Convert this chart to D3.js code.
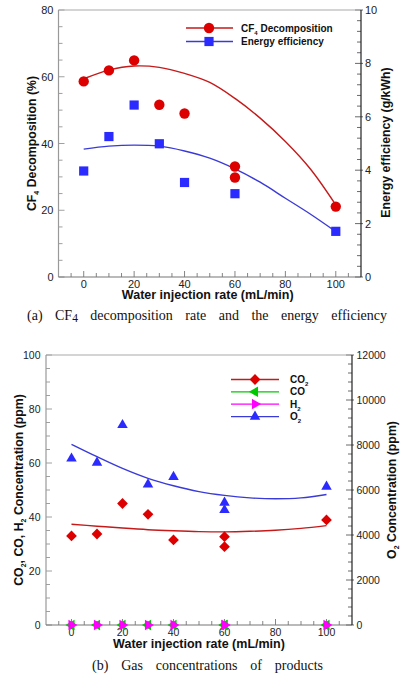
<!DOCTYPE html>
<html><head><meta charset="utf-8">
<script src="https://cdn.jsdelivr.net/npm/d3@7"></script>
<style>body{margin:0;background:#fff}svg{display:block}</style>
</head><body>
<script>
// ---------- Data (a) ----------
const xDecomp = [0, 10, 20, 30, 40, 60, 60, 100];
const cf4Decomp = [58.6, 61.9, 64.9, 51.6, 49.0, 33.1, 29.8, 21.1];
const xEff = [0, 10, 20, 30, 40, 60, 100];
const energyEff = [3.97, 5.26, 6.44, 4.99, 3.54, 3.12, 1.71];
const fitX = [0, 10, 20, 30, 40, 50, 60, 70, 80, 90, 100];
const cf4Fit = [59.4, 62.0, 63.2, 62.8, 61.0, 58.3, 53.5, 47.6, 40.6, 32.3, 21.6];
const effFit = [4.79, 4.90, 4.94, 4.90, 4.72, 4.45, 4.05, 3.55, 2.95, 2.35, 1.70];
// ---------- Data (b) ----------
const xGas = [0, 10, 20, 30, 40, 60, 60, 100];
const co2 = [33.0, 33.7, 45.0, 41.0, 31.5, 32.7, 29.0, 38.9];
const co = [0, 0, 0, 0, 0, 0, 0, 0];
const h2 = [0, 0, 0, 0, 0, 0, 0, 0];
const o2 = [7400, 7215, 8890, 6250, 6580, 5440, 5110, 6150];
const co2Fit = [37.3, 36.6, 35.9, 35.3, 34.9, 34.6, 34.5, 34.7, 35.1, 35.8, 36.8];
const o2Fit = [8030, 7480, 6960, 6520, 6190, 5930, 5760, 5650, 5610, 5650, 5800];
// ---------- Ticks ----------
const xTicks = [0, 20, 40, 60, 80, 100];
const leftTicksA = [0, 20, 40, 60, 80];
const rightTicksA = [0, 2, 4, 6, 8, 10];
const leftTicksB = [0, 20, 40, 60, 80, 100];
const rightTicksB = [0, 2000, 4000, 6000, 8000, 10000, 12000];

const W = 408, H = 682;
const svg = d3.select("body").append("svg").attr("width", W).attr("height", H);
const SANS = "'Liberation Sans', Arial, sans-serif";
const SERIF = "'Liberation Serif', 'Times New Roman', serif";
const RED = "#dd0000", REDLINE = "#c41a1a", BLUE = "#2b2bff", BLUELINE = "#3a3ad8", GREEN = "#00c800", MAG = "#ff00ff";

function rich(sel, parts, subSize) {
  parts.forEach(p => {
    if (p.sub) sel.append("tspan").attr("font-size", subSize).attr("dy", 3).text(p.t);
    else sel.append("tspan").attr("dy", p.after ? -3 : 0).text(p.t);
  });
}

function frame(g, L, R, T, B, x, yl, yr, cfg) {
  const minorX = d3.range(-5, 110, 5);
  g.selectAll(".mx").data(minorX).join("line")
    .attr("x1", d => x(d)).attr("x2", d => x(d))
    .attr("y1", B).attr("y2", d => B - (d % 20 === 0 ? 6 : 4))
    .attr("stroke", "#666").attr("stroke-width", 0.8);
  g.selectAll(".ml").data(d3.range(0, cfg.lmax + 0.001, cfg.lminor)).join("line")
    .attr("x1", L).attr("x2", d => L + (Math.abs(d % cfg.lmajor) < 1e-6 ? 6 : 4))
    .attr("y1", d => yl(d)).attr("y2", d => yl(d))
    .attr("stroke", "#888").attr("stroke-width", 0.8);
  g.selectAll(".mr").data(d3.range(0, cfg.rmax + cfg.rminor / 2, cfg.rminor)).join("line")
    .attr("x1", d => { const r = d / cfg.rmajor; return Math.abs(r - Math.round(r)) < 1e-6 ? R + 2 : R; })
    .attr("x2", d => { const r = d / cfg.rmajor; return R - (Math.abs(r - Math.round(r)) < 1e-6 ? 6 : 4); })
    .attr("y1", d => yr(d)).attr("y2", d => yr(d))
    .attr("stroke", "#444").attr("stroke-width", 0.8);
  g.append("line").attr("x1", L).attr("x2", R).attr("y1", T).attr("y2", T).attr("stroke", "#aaa").attr("stroke-width", 1.2);
  g.append("line").attr("x1", L).attr("x2", L).attr("y1", T).attr("y2", B).attr("stroke", "#999").attr("stroke-width", 1.2);
  g.append("line").attr("x1", L).attr("x2", R).attr("y1", B).attr("y2", B).attr("stroke", "#777").attr("stroke-width", 1.2);
  g.append("line").attr("x1", R).attr("x2", R).attr("y1", T).attr("y2", B).attr("stroke", "#222").attr("stroke-width", 1.2);
  g.selectAll(".xl").data(xTicks).join("text").attr("x", d => x(d)).attr("y", B + 10.5)
    .attr("text-anchor", "middle").attr("font-family", SANS).attr("font-size", cfg.fs).attr("fill", "#222").text(d => d);
  g.selectAll(".yl").data(cfg.lt).join("text").attr("x", L - cfg.lgap).attr("y", d => yl(d) + 4)
    .attr("text-anchor", "end").attr("font-family", SANS).attr("font-size", cfg.fs).attr("fill", "#222").text(d => d);
  g.selectAll(".yr").data(cfg.rt).join("text").attr("x", R + cfg.rgap).attr("y", d => yr(d) + 4)
    .attr("text-anchor", "start").attr("font-family", SANS).attr("font-size", cfg.fs).attr("fill", "#222").text(d => d);
}

// ================= Chart (a) =================
{
  const L = 58.5, R = 361, T = 10, B = 277;
  const x = d3.scaleLinear().domain([-10, 110]).range([L, R]);
  const yl = d3.scaleLinear().domain([0, 80]).range([B, T]);
  const yr = d3.scaleLinear().domain([0, 10]).range([B, T]);
  const g = svg.append("g");
  frame(g, L, R, T, B, x, yl, yr, { lmax: 80, lminor: 5, lmajor: 20, rmax: 10, rminor: 0.4, rmajor: 2, fs: 11, lgap: 5, rgap: 4, lt: leftTicksA, rt: rightTicksA });

  const line = (xs, ys, sc) => d3.line().x((d, i) => x(xs[i])).y(d => sc(d)).curve(d3.curveCatmullRom)(ys);
  g.append("path").attr("d", line(fitX, cf4Fit, yl)).attr("fill", "none").attr("stroke", REDLINE).attr("stroke-width", 1.4);
  g.append("path").attr("d", line(fitX, effFit, yr)).attr("fill", "none").attr("stroke", BLUELINE).attr("stroke-width", 1.4);

  g.selectAll(".sq").data(energyEff).join("rect")
    .attr("x", (d, i) => x(xEff[i]) - 4.6).attr("y", d => yr(d) - 4.6).attr("width", 9.2).attr("height", 9.2).attr("fill", BLUE);
  g.selectAll(".ci").data(cf4Decomp).join("circle")
    .attr("cx", (d, i) => x(xDecomp[i])).attr("cy", d => yl(d)).attr("r", 5.2).attr("fill", RED);

  const lx1 = 186, lx2 = 233, lm = 209, tx = 241;
  g.append("line").attr("x1", lx1).attr("x2", lx2).attr("y1", 28).attr("y2", 28).attr("stroke", REDLINE).attr("stroke-width", 1.3);
  g.append("circle").attr("cx", lm).attr("cy", 28).attr("r", 5.2).attr("fill", RED);
  g.append("line").attr("x1", lx1).attr("x2", lx2).attr("y1", 41.5).attr("y2", 41.5).attr("stroke", BLUELINE).attr("stroke-width", 1.3);
  g.append("rect").attr("x", lm - 4.6).attr("y", 41.5 - 4.6).attr("width", 9.2).attr("height", 9.2).attr("fill", BLUE);
  const t1 = g.append("text").attr("x", tx).attr("y", 31.5).attr("font-family", SANS).attr("font-weight", "bold").attr("font-size", 10).attr("fill", "#111");
  rich(t1, [{ t: "CF" }, { t: "4", sub: 1 }, { t: " Decomposition", after: 1 }], 6);
  g.append("text").attr("x", tx).attr("y", 45).attr("font-family", SANS).attr("font-weight", "bold").attr("font-size", 10).attr("fill", "#111").text("Energy efficiency");

  g.append("text").attr("x", (L + R) / 2 - 2).attr("y", 299).attr("text-anchor", "middle").attr("font-family", SANS)
    .attr("font-weight", "bold").attr("font-size", 12.5).attr("fill", "#111").text("Water injection rate (mL/min)");
  const ylab = g.append("text").attr("transform", `translate(36,${(T + B) / 2}) rotate(-90)`).attr("text-anchor", "middle")
    .attr("font-family", SANS).attr("font-weight", "bold").attr("font-size", 12.3).attr("fill", "#111");
  rich(ylab, [{ t: "CF" }, { t: "4", sub: 1 }, { t: " Decomposition (%)", after: 1 }], 7);
  g.append("text").attr("transform", `translate(389.5,${(T + B) / 2 - 1}) rotate(-90)`).attr("text-anchor", "middle")
    .attr("font-family", SANS).attr("font-weight", "bold").attr("font-size", 12.3).attr("fill", "#111").text("Energy efficiency (g/kWh)");

  const cap = g.append("text").attr("x", 27).attr("y", 320).attr("font-family", SERIF).attr("font-size", 14).attr("fill", "#111");
  cap.append("tspan").text("(a) CF");
  cap.append("tspan").attr("font-size", 11.5).attr("dy", 2).text("4");
  cap.append("tspan").attr("dy", -2).text(" decomposition rate and the energy efficiency");
  const nat = cap.node().getComputedTextLength();
  cap.attr("word-spacing", Math.max(0, (360 - nat) / 7));
}

// ================= Chart (b) =================
{
  const L = 46, R = 352, T = 355, B = 625;
  const x = d3.scaleLinear().domain([-10, 110]).range([L, R]);
  const yl = d3.scaleLinear().domain([0, 100]).range([B, T]);
  const yr = d3.scaleLinear().domain([0, 12000]).range([B, T]);
  const g = svg.append("g");
  frame(g, L, R, T, B, x, yl, yr, { lmax: 100, lminor: 5, lmajor: 20, rmax: 12000, rminor: 400, rmajor: 2000, fs: 10.5, lgap: 5.5, rgap: 4.5, lt: leftTicksB, rt: rightTicksB });

  const line = (xs, ys, sc) => d3.line().x((d, i) => x(xs[i])).y(d => sc(d)).curve(d3.curveCatmullRom)(ys);
  g.append("path").attr("d", line(fitX, co2Fit, yl)).attr("fill", "none").attr("stroke", REDLINE).attr("stroke-width", 1.4);
  g.append("path").attr("d", line(fitX, o2Fit, yr)).attr("fill", "none").attr("stroke", BLUELINE).attr("stroke-width", 1.4);

  const tri = d3.symbol().type(d3.symbolTriangle).size(48);
  const dia = d3.symbol().type(d3.symbolSquare).size(58);
  g.selectAll(".o2").data(o2).join("path").attr("d", tri)
    .attr("transform", (d, i) => `translate(${x(xGas[i])},${yr(d)})`).attr("fill", BLUE);
  g.selectAll(".co2").data(co2).join("path").attr("d", dia)
    .attr("transform", (d, i) => `translate(${x(xGas[i])},${yl(d)}) rotate(45)`).attr("fill", RED);
  g.selectAll(".co").data(co).join("path").attr("d", tri)
    .attr("transform", (d, i) => `translate(${x(xGas[i])},${yl(d)}) rotate(-90)`).attr("fill", GREEN);
  g.selectAll(".h2").data(h2).join("path").attr("d", tri)
    .attr("transform", (d, i) => `translate(${x(xGas[i])},${yl(d)}) rotate(90)`).attr("fill", MAG);

  const lx1 = 231, lx2 = 279, lm = 255, tx = 290;
  const rows = [
    { y: 379.5, c: REDLINE, f: RED, sym: dia, rot: 45, lab: [{ t: "CO" }, { t: "2", sub: 1 }] },
    { y: 391.8, c: GREEN, f: GREEN, sym: tri, rot: -90, lab: [{ t: "CO" }] },
    { y: 404.1, c: MAG, f: MAG, sym: tri, rot: 90, lab: [{ t: "H" }, { t: "2", sub: 1 }] },
    { y: 416.6, c: BLUELINE, f: BLUE, sym: tri, rot: 0, lab: [{ t: "O" }, { t: "2", sub: 1 }] }
  ];
  rows.forEach(r => {
    g.append("line").attr("x1", lx1).attr("x2", lx2).attr("y1", r.y).attr("y2", r.y).attr("stroke", r.c).attr("stroke-width", 1.3);
    g.append("path").attr("d", r.sym).attr("transform", `translate(${lm},${r.y}) rotate(${r.rot})`).attr("fill", r.f);
    const t = g.append("text").attr("x", tx).attr("y", r.y + 3.5).attr("font-family", SANS).attr("font-weight", "bold").attr("font-size", 10).attr("fill", "#111");
    rich(t, r.lab, 6);
  });

  g.append("text").attr("x", 199).attr("y", 647.5).attr("text-anchor", "middle").attr("font-family", SANS)
    .attr("font-weight", "bold").attr("font-size", 12.5).attr("fill", "#111").text("Water injection rate (mL/min)");
  const ylab = g.append("text").attr("transform", `translate(22.5,${(T + B) / 2}) rotate(-90)`).attr("text-anchor", "middle")
    .attr("font-family", SANS).attr("font-weight", "bold").attr("font-size", 12.3).attr("fill", "#111");
  rich(ylab, [{ t: "CO" }, { t: "2", sub: 1 }, { t: ", CO, H", after: 1 }, { t: "2", sub: 1 }, { t: " Concentration (ppm)", after: 1 }], 7);
  const yrlab = g.append("text").attr("transform", `translate(396,${(T + B) / 2}) rotate(-90)`).attr("text-anchor", "middle")
    .attr("font-family", SANS).attr("font-weight", "bold").attr("font-size", 12.3).attr("fill", "#111");
  rich(yrlab, [{ t: "O" }, { t: "2", sub: 1 }, { t: " Concentration (ppm)", after: 1 }], 7);

  const cap = g.append("text").attr("x", 92).attr("y", 670).attr("font-family", SERIF).attr("font-size", 14).attr("fill", "#111")
    .text("(b) Gas concentrations of products");
  const nat = cap.node().getComputedTextLength();
  cap.attr("word-spacing", Math.max(0, (231 - nat) / 4));
}
</script>
</body></html>
